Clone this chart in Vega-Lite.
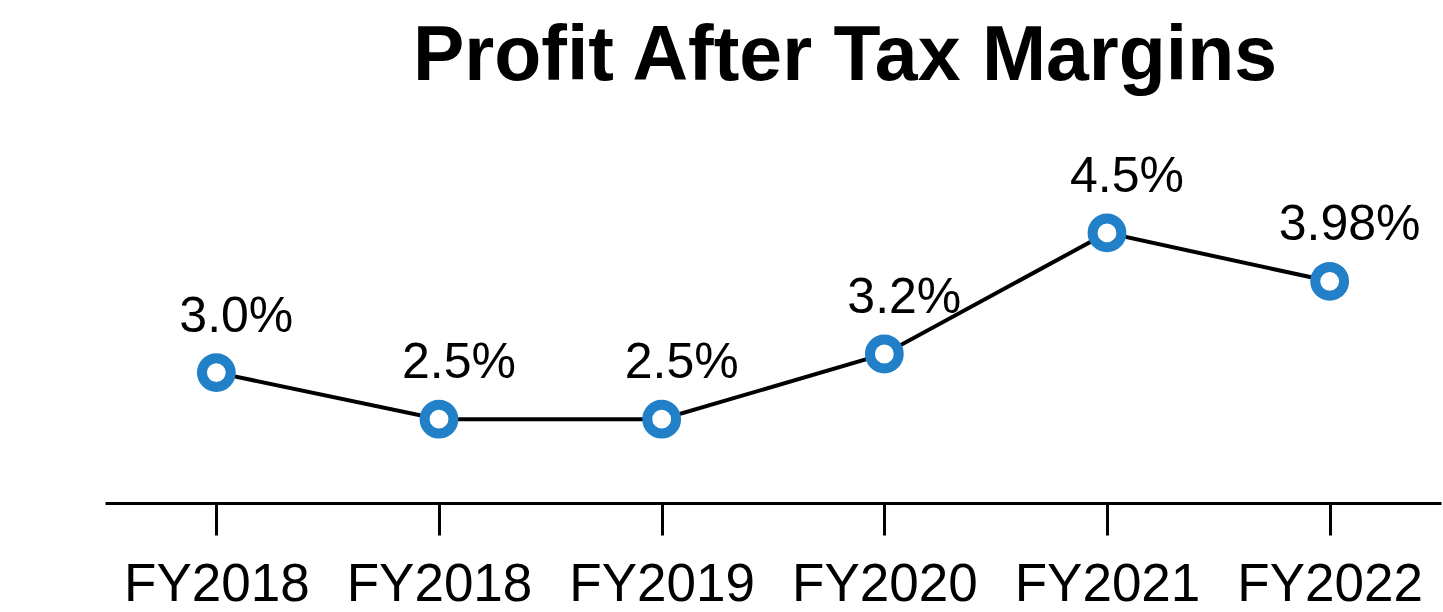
{
  "$schema": "https://vega.github.io/schema/vega-lite/v6.json",
  "autosize": "none",
  "width": 1336,
  "height": 353,
  "padding": {"left": 105, "top": 150, "right": 2, "bottom": 109},
  "background": "white",
  "config": {"view": {"stroke": null}, "font": "Liberation Sans"},
  "title": {
    "text": "Profit After Tax Margins",
    "font": "Liberation Sans",
    "fontSize": 77,
    "fontWeight": "bold",
    "color": "black",
    "anchor": "middle",
    "baseline": "alphabetic",
    "offset": -7,
    "dx": 72
  },
  "data": {
    "values": [
      {"period": "FY2018|1", "margin": 3.0, "label": "3.0%"},
      {"period": "FY2018|2", "margin": 2.5, "label": "2.5%"},
      {"period": "FY2019", "margin": 2.5, "label": "2.5%"},
      {"period": "FY2020", "margin": 3.2, "label": "3.2%"},
      {"period": "FY2021", "margin": 4.5, "label": "4.5%"},
      {"period": "FY2022", "margin": 3.98, "label": "3.98%"}
    ]
  },
  "encoding": {
    "x": {
      "field": "period",
      "type": "nominal",
      "sort": null,
      "scale": {"type": "point", "padding": 0.5},
      "axis": {
        "title": null,
        "labelAngle": 0,
        "labelExpr": "split(datum.value, '|')[0]",
        "labelLimit": 0,
        "labelFont": "Liberation Sans",
        "labelFontSize": 53,
        "labelColor": "black",
        "labelBaseline": "alphabetic",
        "labelPadding": 65,
        "domainColor": "black",
        "domainWidth": 3,
        "tickColor": "black",
        "tickWidth": 3,
        "tickSize": 32,
        "grid": false
      }
    },
    "y": {
      "field": "margin",
      "type": "quantitative",
      "scale": {"domain": [1.6, 5.39], "zero": false, "nice": false},
      "axis": null
    }
  },
  "layer": [
    {"mark": {"type": "line", "color": "black", "strokeWidth": 4}},
    {"mark": {"type": "point", "shape": "circle", "filled": true, "fill": "white", "stroke": "#2180c8", "strokeWidth": 10, "size": 830, "opacity": 1}},
    {
      "mark": {"type": "text", "fontSize": 50, "font": "Liberation Sans", "color": "black", "baseline": "middle", "dx": 20, "dy": -56},
      "encoding": {"text": {"field": "label"}}
    }
  ]
}
